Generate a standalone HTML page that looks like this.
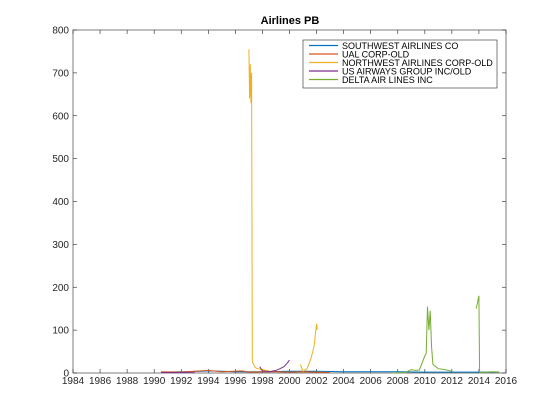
<!DOCTYPE html>
<html><head><meta charset="utf-8"><style>
body{margin:0;background:#fff;}
svg{display:block;font-family:"Liberation Sans",sans-serif;}
</style></head><body>
<svg id="chart" width="560" height="420">
<rect width="560" height="420" fill="#fff"/>
<text x="290" y="24" text-anchor="middle" font-size="11" font-weight="bold">Airlines PB</text>
<g id="axes"></g>
<g id="series"></g>
<g id="legend"></g>
</svg>
<script>
const xTicks=[1984,1986,1988,1990,1992,1994,1996,1998,2000,2002,2004,2006,2008,2010,2012,2014,2016];
const yTicks=[0,100,200,300,400,500,600,700,800];
const seriesNames=["SOUTHWEST AIRLINES CO","UAL CORP-OLD","NORTHWEST AIRLINES CORP-OLD","US AIRWAYS GROUP INC/OLD","DELTA AIR LINES INC"];
const seriesColors=["#0072BD","#D95319","#EDB120","#7E2F8E","#77AC30"];
const swX=[1990.5,1992,1993.5,1994,1995,1996,1997,1998,2000,2002,2004,2006,2008,2010,2012,2014,2015.5];
const swY=[2,3,4,5,4,3,3,3,4,4,3,3,3,2,2,2,2];
const ualX=[1990.5,1992,1993,1994,1995,1996.5,1997,1998,1999,2000,2001,2002,2003];
const ualY=[3,2,4,6,3,5,2,3,3,2,3,2,1];
const nwX=[1997.0,1997.05,1997.1,1997.15,1997.2,1997.25,1997.3,1997.5,1997.7,1998,1998.5,null,2000.8,2001,2001.3,2001.6,2001.8,2002,2002.05];
const nwY=[755,640,720,630,700,30,22,12,10,8,5,null,20,4,10,35,60,115,100];
const usX=[1990.5,1992,1993,null,1997.8,1998,1998.5,1999,1999.3,1999.6,1999.8,2000];
const usY=[1,1,1,null,15,5,3,6,10,15,22,30];
const dlX=[2007.5,2008.5,2008.8,2009,2009.3,2009.6,2010,2010.1,2010.2,2010.3,2010.4,2010.5,2010.6,2010.8,2011,2011.5,2012,null,2013.8,2014,2014.05,2014.5,2015,2015.5];
const dlY=[0,1,5,8,6,7,40,45,155,100,145,60,20,15,10,8,4,null,150,180,1,2,3,2];
const seriesX=[swX,ualX,nwX,usX,dlX], seriesY=[swY,ualY,nwY,usY,dlY];

const L=73,R=506,T=30,B=373;
const xs=v=>L+(v-1984)/(2016-1984)*(R-L);
const ys=v=>B-v/800*(B-T);
const NS="http://www.w3.org/2000/svg";
function mk(tag,attrs,parent){const e=document.createElementNS(NS,tag);for(const k in attrs)e.setAttribute(k,attrs[k]);parent.appendChild(e);return e;}
const axes=document.getElementById('axes');
let box=mk('rect',{x:L,y:T,width:R-L,height:B-T,fill:'none',stroke:'#262626','stroke-width':0.6},axes);


xTicks.forEach(t=>{const x=xs(t);
 mk('line',{x1:x,x2:x,y1:B,y2:B-4,stroke:'#262626','stroke-width':0.6},axes);
 mk('line',{x1:x,x2:x,y1:T,y2:T+4,stroke:'#262626','stroke-width':0.6},axes);
 const tx=mk('text',{x:x,y:B+11,'font-size':10,'text-anchor':'middle',fill:'#262626'},axes);tx.textContent=t;
 
 });
yTicks.forEach(t=>{const y=ys(t);
 mk('line',{x1:L,x2:L+4,y1:y,y2:y,stroke:'#262626','stroke-width':0.6},axes);
 mk('line',{x1:R,x2:R-4,y1:y,y2:y,stroke:'#262626','stroke-width':0.6},axes);
 const tx=mk('text',{x:L-4,y:y+3.5,'font-size':10,'text-anchor':'end',fill:'#262626'},axes);tx.textContent=t;
 
 });
const sg=document.getElementById('series');
seriesX.forEach((X,i)=>{let d='',pen=false;
 X.forEach((xv,j)=>{if(xv===null){pen=false;return;}d+=(pen?'L':'M')+xs(xv).toFixed(1)+' '+ys(seriesY[i][j]).toFixed(1);pen=true;});
 const p=mk('path',{d:d,fill:'none',stroke:seriesColors[i],'stroke-width':1},sg);
 
 });
const lg=document.getElementById('legend');
const lb=mk('rect',{x:303,y:40,width:194,height:48,fill:'#fff',stroke:'#262626','stroke-width':0.6},lg);


seriesNames.forEach((n,i)=>{const y=45.5+i*8.5;
 mk('line',{x1:309,x2:338,y1:y,y2:y,stroke:seriesColors[i],'stroke-width':1.2},lg);
 const tx=mk('text',{x:342,y:y+3.5,'font-size':9,fill:'#000'},lg);tx.textContent=n;
 
 });
</script>
</body></html>
